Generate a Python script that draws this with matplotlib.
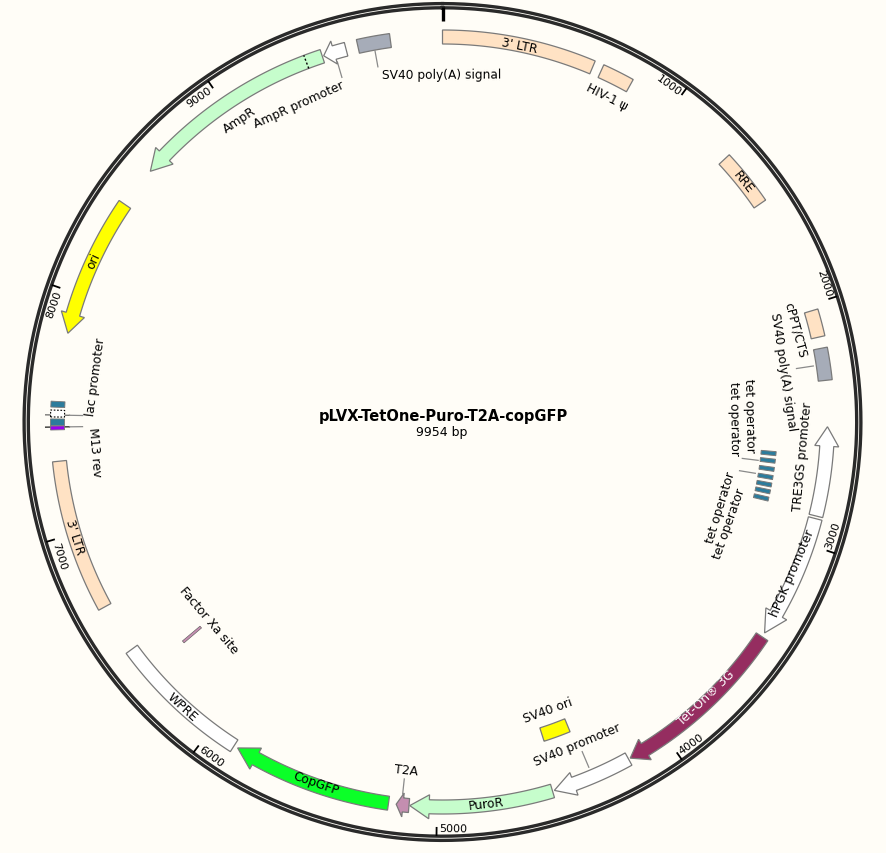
import matplotlib
matplotlib.use("Agg")
import matplotlib.pyplot as plt
import numpy as np

PLASMID_LEN = 9954
TITLE = "pLVX-TetOne-Puro-T2A-copGFP"
SUBTITLE = "9954 bp"

BG = "#FFFDF7"
EDGE = "#7A7A7A"
LTR = "#FFE2C4"
GREEN = "#C6FDCC"
GREY = "#A6ACB8"
TEAL = "#2C7C9C"

# plain boxes: start/end in bp
box_start = [0, 672, 1300, 2025, 2184, 5883, 6672, 9603, 4358]
box_end = [634, 805, 1535, 2137, 2317, 6465, 7304, 9739, 4489]
box_color = [LTR, LTR, LTR, LTR, GREY, "white", LTR, GREY, "#FFFF00"]
box_track = [0, 0, 0, 0, 0, 0, 0, 0, 1]

# arrows: tail -> head base -> tip, in bp
arrow_tail = [2879, 2890, 3426, 4178, 4518, 5115, 5200, 8417, 9451, 9553]
arrow_base = [2588, 3315, 4100, 4425, 5032, 5140, 5780, 7915, 8675, 9502]
arrow_tip = [2508, 3407, 4170, 4510, 5112, 5168, 5866, 7834, 8589, 9457]
arrow_color = ["white", "white", "#952D60", "white", GREEN, "#C48EB0",
               "#0BFF28", "#FFFF00", GREEN, "white"]

tet_start = [2629, 2665, 2704, 2743, 2779, 2812, 2847]
tet_end = [2648, 2684, 2723, 2762, 2798, 2831, 2866]

# small features at the lac promoter
lac_start = [7526, 7486, 7451, 7433]
lac_end = [7550, 7514, 7478, 7449]
lac_color = [TEAL, "white", TEAL, "#9A00F0"]

tick_bp = [1000, 2000, 3000, 4000, 5000, 6000, 7000, 8000, 9000]

# feature labels: text, bp of the centre, radius
label_text = ["3' LTR", "HIV-1 ψ", "RRE", "cPPT/CTS", "SV40 poly(A) signal",
              "tet operator", "tet operator", "TRE3GS promoter", "tet operator",
              "tet operator", "hPGK promoter", "Tet-On® 3G", "SV40 ori",
              "SV40 promoter", "PuroR", "T2A", "CopGFP", "WPRE", "Factor Xa site",
              "3' LTR", "M13 rev", "lac promoter", "ori", "AmpR", "AmpR promoter",
              "SV40 poly(A) signal"]
label_bp = [317, 741, 1421, 2079, 2253, 2453, 2467, 2638, 2958, 3025, 3130, 3766,
            4421, 4350, 4798, 5143, 5511, 6152, 6351, 6988, 7330, 7675, 8152,
            9017, 9282, 9948]
label_r = [385, 365, 385, 365, 345, 307, 292, 362, 291, 304, 381, 381, 307, 349,
           384, 350, 382, 386, 306, 385, 349, 350, 384, 365, 349, 348]

# leader lines between a feature and its label
leader_bp = [9669, 9504, 2251, 2680, 2746, 7494, 7445, 5146, 4342]
leader_in = [361, 359, 358, 302, 301, 360, 360, 359, 358]
leader_out = [377, 375, 375, 318, 317, 373, 373, 374, 375]

DOTTED_BP = 9381
XA_BP = (6345, 6357)


def th(bp):
    return np.asarray(bp, dtype=float) / PLASMID_LEN * 2 * np.pi


def tangent_rotation(bp):
    deg = bp / PLASMID_LEN * 360
    return 180 - deg if 90 < deg < 270 else -deg


def draw_box(ax, start, end, r_in, r_out, color, lw=0.9, edge=EDGE, ls="-"):
    arc = np.linspace(start, end, 80)
    t = th(np.concatenate([arc, arc[::-1]]))
    r = np.concatenate([np.full(80, r_out), np.full(80, r_in)])
    ax.fill(t, r, facecolor=color, edgecolor=edge, linewidth=lw, linestyle=ls, zorder=3)


def draw_arrow(ax, tail, base, tip, color):
    body = np.linspace(tail, base, 80)
    t = np.concatenate([body, [base], [tip], [base], body[::-1]])
    r = np.concatenate([np.full(80, 392), [397], [385], [373], np.full(80, 378)])
    ax.fill(th(t), r, facecolor=color, edgecolor=EDGE, linewidth=0.9, zorder=3)


fig = plt.figure(figsize=(8.86, 8.54), dpi=100, facecolor=BG)
ax = fig.add_axes([(442.5 - 430) / 886, (854 - 423 - 430) / 854, 860 / 886, 860 / 854],
                  projection="polar")
ax.set_theta_zero_location("N")
ax.set_theta_direction(-1)
ax.set_ylim(0, 430)
ax.axis("off")

# backbone ring
circle = np.linspace(0, 2 * np.pi, 720)
ax.plot(circle, np.full(720, 418.4), color="#2A2A2A", linewidth=2.4, zorder=2)
ax.plot(circle, np.full(720, 414.2), color="#2A2A2A", linewidth=2.4, zorder=2)

# ticks
ax.plot([0, 0], [401, 415], color="black", linewidth=2.4, solid_capstyle="butt", zorder=2)
for bp in tick_bp:
    ax.plot(th([bp, bp]), [405, 414], color="black", linewidth=1.3,
            solid_capstyle="butt", zorder=2)
    top_half = not (PLASMID_LEN / 4 < bp < PLASMID_LEN * 3 / 4)
    ax.text(th(bp - 10), 406, str(bp), fontsize=8, rotation=tangent_rotation(bp),
            rotation_mode="anchor", va="center", ha="right" if top_half else "left",
            color="black")

# features
for s, e, c, trk in zip(box_start, box_end, box_color, box_track):
    r_in, r_out = (378, 392) if trk == 0 else (321, 335)
    draw_box(ax, s, e, r_in, r_out, c)
for a, b, c, col in zip(arrow_tail, arrow_base, arrow_tip, arrow_color):
    draw_arrow(ax, a, b, c, col)
for s, e in zip(tet_start, tet_end):
    draw_box(ax, s, e, 320, 335, TEAL, lw=0.7)
ax.plot(th([DOTTED_BP, DOTTED_BP]), [378, 392], color="black", linewidth=1,
        linestyle=(0, (1.5, 1.5)), zorder=4)
ax.plot(th([7494, 7494]), [373, 397], color="#555555", linewidth=0.8, zorder=2)
ax.plot(th([7445, 7445]), [373, 397], color="black", linewidth=0.8, zorder=2)
for s, e, c in zip(lac_start, lac_end, lac_color):
    if c == "white":
        draw_box(ax, s, e, 378, 392, c, lw=0.8, edge="black", ls=(0, (1.5, 1.5)))
    else:
        draw_box(ax, s, e, 378, 392, c, lw=0.6)
draw_box(ax, XA_BP[0], XA_BP[1], 317, 340, "#C48EB0", lw=0.4, edge="#555555")

for bp, r0, r1 in zip(leader_bp, leader_in, leader_out):
    ax.plot(th([bp, bp]), [r0, r1], color="#8A8A8A", linewidth=0.9, zorder=2)

for txt, bp, r in zip(label_text, label_bp, label_r):
    ax.text(th(bp), r, txt, fontsize=8.8, rotation=tangent_rotation(bp),
            rotation_mode="anchor", ha="center", va="center",
            color="white" if txt.startswith("Tet-On") else "black", zorder=5)

fig.text(443 / 886, 1 - 417 / 854, TITLE, fontsize=10.5, fontweight="bold",
         ha="center", va="center", color="black")
fig.text(442 / 886, 1 - 433 / 854, SUBTITLE, fontsize=9, ha="center", va="center",
         color="black")

fig.savefig("out.png", dpi=100, facecolor=BG)
